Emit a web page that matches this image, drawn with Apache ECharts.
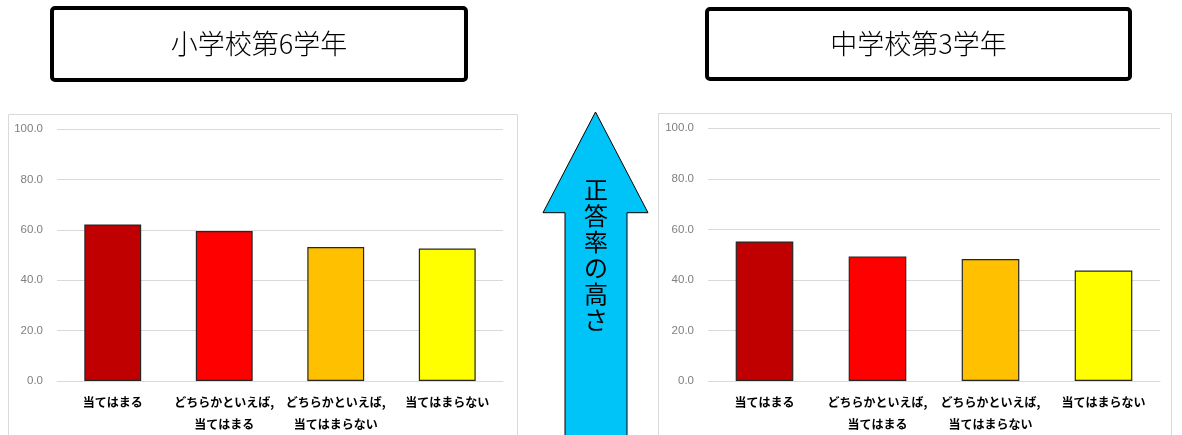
<!DOCTYPE html>
<html><head><meta charset="utf-8">
<script src="https://cdn.jsdelivr.net/npm/echarts@6/dist/echarts.min.js"></script>
<style>html,body{margin:0;padding:0;background:#fff}#c{width:1182px;height:435px}</style>
</head><body><div id="c"></div>
<script>
const categories = ['当てはまる', 'どちらかといえば,\n当てはまる', 'どちらかといえば,\n当てはまらない', '当てはまらない'];
const elementaryValues = [62.2, 59.6, 53.2, 52.6];
const juniorValues = [55.2, 49.3, 48.3, 43.7];
const barColors = ['#C00000', '#FF0000', '#FFC000', '#FFFF00'];
const titles = ['小学校第6学年', '中学校第3学年'];
const arrowLabel = '正\n答\n率\nの\n高\nさ';

const chart = echarts.init(document.getElementById('c'));
const catFont = {color: '#000', fontWeight: 'bold', fontSize: 12, lineHeight: 22, fontFamily: '"Noto Sans CJK JP", sans-serif'};
function yAxis(idx) {
  return {type: 'value', gridIndex: idx, min: 0, max: 100, interval: 20,
    axisLine: {show: false}, axisTick: {show: false},
    splitLine: {lineStyle: {color: '#D9D9D9', width: 1}},
    axisLabel: {color: '#7F7F7F', fontSize: 11.5, margin: 14, fontFamily: 'Liberation Sans, sans-serif', formatter: v => v.toFixed(1)}};
}
function xAxis(idx) {
  return {type: 'category', gridIndex: idx, data: categories,
    axisLine: {lineStyle: {color: '#D9D9D9'}}, axisTick: {show: false},
    axisLabel: Object.assign({interval: 0, margin: 10}, catFont)};
}
function series(idx, vals) {
  return {type: 'bar', xAxisIndex: idx, yAxisIndex: idx, barWidth: '51%',
    data: vals.map((v, i) => ({value: v, itemStyle: {color: barColors[i]}})),
    itemStyle: {borderColor: '#262626', borderWidth: 1.2}};
}
const titleBox = (x, y, w, h, text) => ({type: 'group', children: [
  {type: 'rect', shape: {x: x, y: y, width: w, height: h, r: 3}, style: {fill: '#fff', stroke: '#000', lineWidth: 4}},
  {type: 'text', x: x + w / 2, y: y + h / 2, style: {text: text, fill: '#000', fontSize: 27, fontFamily: '"Noto Sans CJK JP", sans-serif', fontWeight: 300, align: 'center', verticalAlign: 'middle'}}
]});

chart.setOption({
  animation: false,
  grid: [
    {left: 57, right: 1182 - 503, top: 129.3, bottom: 435 - 381},
    {left: 708, right: 1182 - 1160, top: 128.3, bottom: 435 - 381.7}
  ],
  xAxis: [xAxis(0), xAxis(1)],
  yAxis: [yAxis(0), yAxis(1)],
  series: [series(0, elementaryValues), series(1, juniorValues)],
  graphic: [
    {type: 'rect', z: -10, shape: {x: 8.5, y: 114.5, width: 509, height: 340}, style: {fill: 'none', stroke: '#D9D9D9', lineWidth: 1}},
    {type: 'rect', z: -10, shape: {x: 658.5, y: 113.5, width: 513, height: 340}, style: {fill: 'none', stroke: '#D9D9D9', lineWidth: 1}},
    titleBox(52, 8, 414, 72, titles[0]),
    titleBox(707, 9, 423, 70, titles[1]),
    {type: 'polygon', shape: {points: [[595.5, 112], [543, 212.7], [565, 212.7], [565, 445], [627, 445], [627, 212.7], [648, 212.7]]},
      style: {fill: '#00C4F8', stroke: '#000', lineWidth: 1}},
    {type: 'text', x: 596, y: 255, style: {text: arrowLabel, fill: '#000', fontSize: 24, lineHeight: 26, fontFamily: '"Noto Sans CJK JP", sans-serif', align: 'center', verticalAlign: 'middle'}}
  ]
});
</script></body></html>
